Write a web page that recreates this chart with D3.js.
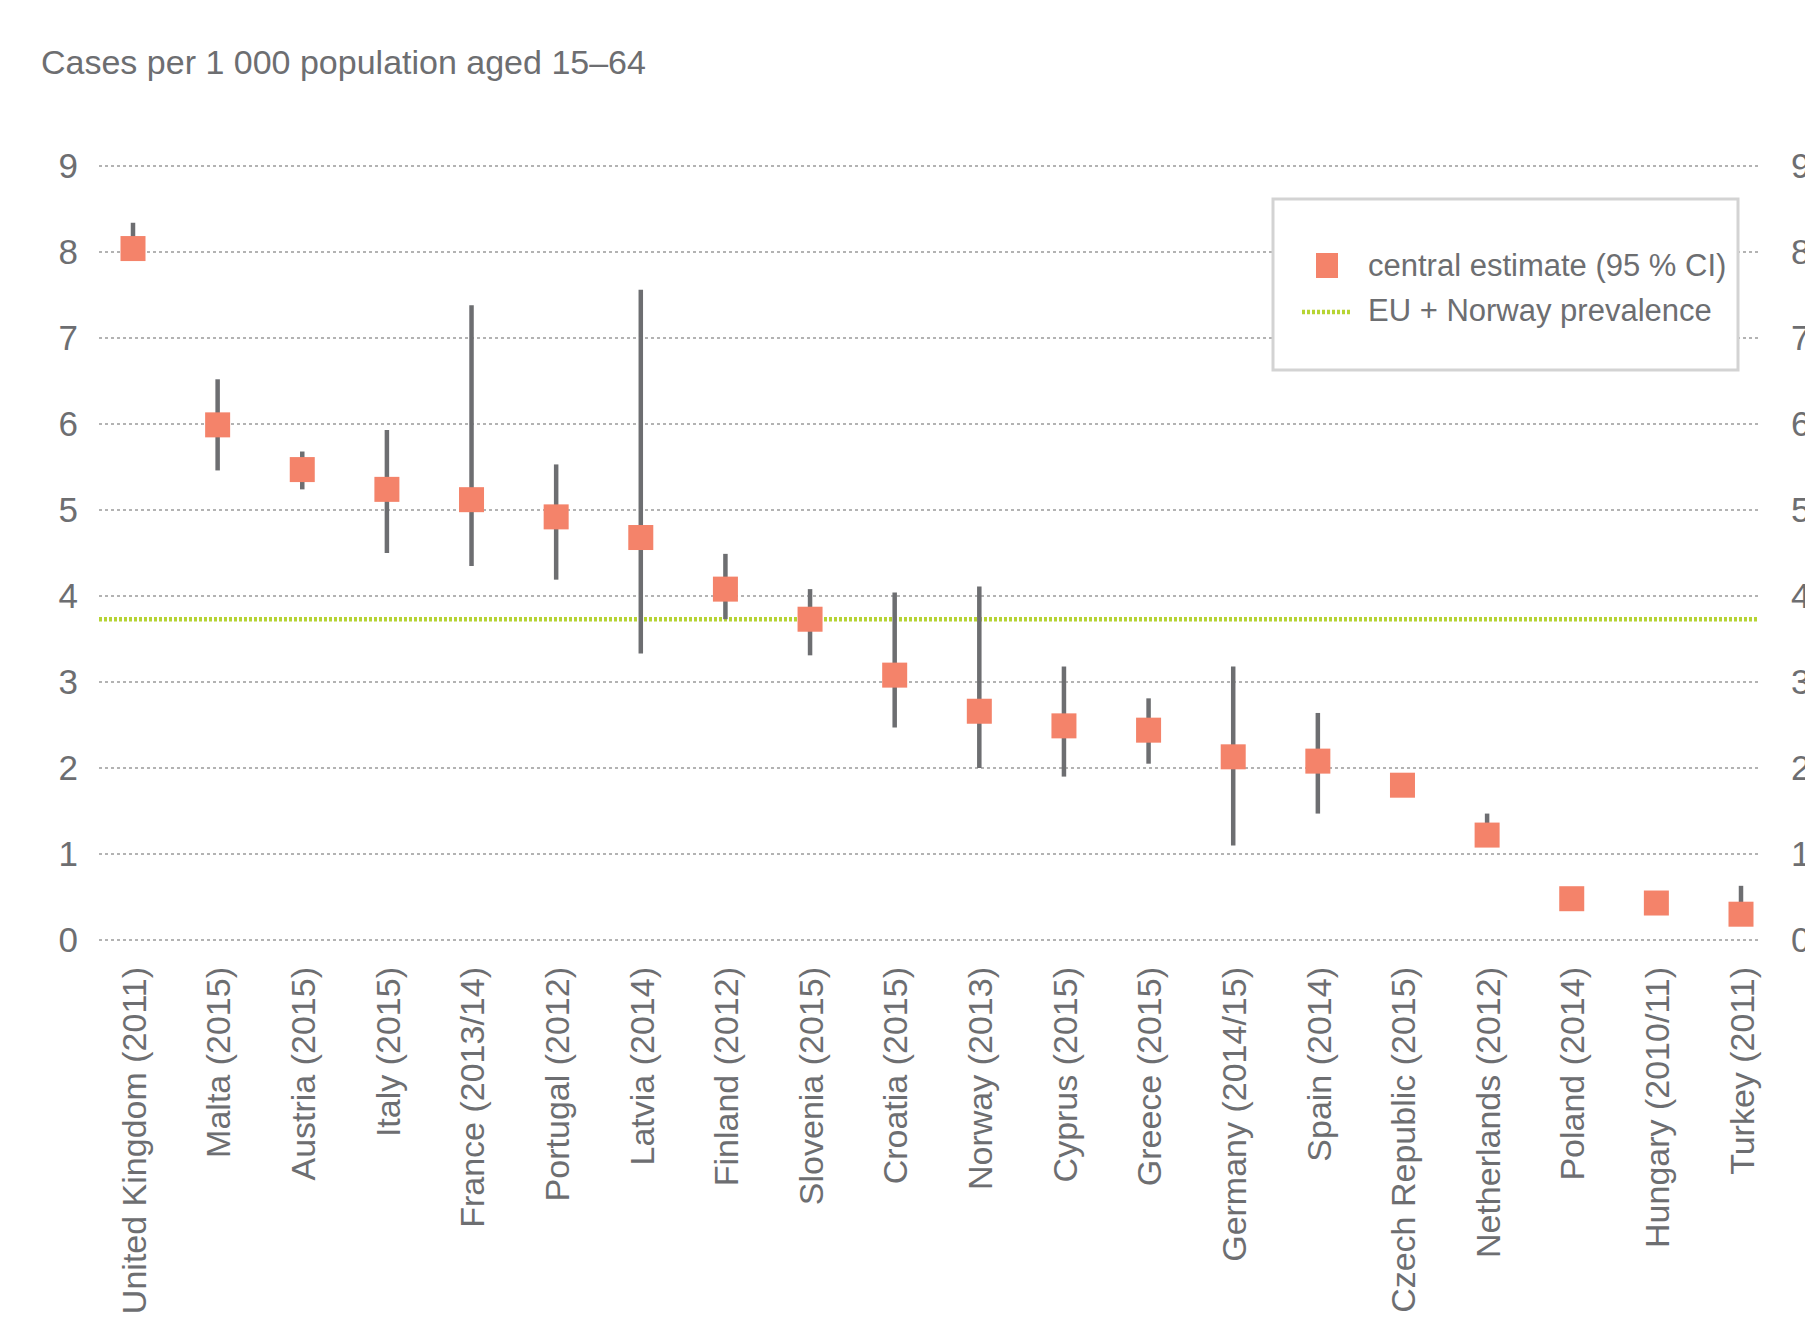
<!DOCTYPE html>
<html>
<head>
<meta charset="utf-8">
<script src="https://cdn.jsdelivr.net/npm/d3@7"></script>
<style>
  html, body { margin: 0; padding: 0; background: #fff; }
  svg { display: block; }
  text { font-family: "Liberation Sans", Arial, sans-serif; fill: #6d6e71; }
</style>
</head>
<body>
<svg id="chart" width="1805" height="1324"></svg>
<script>
// Country (survey year) labels, in chart order
const categories = [
  "United Kingdom (2011)", "Malta (2015)", "Austria (2015)", "Italy (2015)",
  "France (2013/14)", "Portugal (2012)", "Latvia (2014)", "Finland (2012)",
  "Slovenia (2015)", "Croatia (2015)", "Norway (2013)", "Cyprus (2015)",
  "Greece (2015)", "Germany (2014/15)", "Spain (2014)", "Czech Republic (2015)",
  "Netherlands (2012)", "Poland (2014)", "Hungary (2010/11)", "Turkey (2011)"
];
// Central estimates, cases per 1 000 population aged 15-64
const estimate = [8.04, 5.99, 5.47, 5.24, 5.12, 4.92, 4.68, 4.08, 3.73, 3.08,
                  2.66, 2.49, 2.44, 2.13, 2.08, 1.80, 1.22, 0.48, 0.43, 0.30];
// 95 % confidence interval bounds (null where no interval is reported)
const ciLow  = [7.95, 5.46, 5.24, 4.50, 4.35, 4.19, 3.33, 3.73, 3.31, 2.47,
                2.00, 1.90, 2.05, 1.10, 1.47, null, 1.15, null, null, 0.25];
const ciHigh = [8.34, 6.52, 5.68, 5.93, 7.38, 5.53, 7.56, 4.49, 4.08, 4.04,
                4.11, 3.18, 2.81, 3.18, 2.64, null, 1.47, null, null, 0.63];
// EU + Norway prevalence reference value
const euPrevalence = 3.73;
const yTicks = [0, 1, 2, 3, 4, 5, 6, 7, 8, 9];

const title = "Cases per 1 000 population aged 15\u201364";
const legendLabels = ["central estimate (95 % CI)", "EU + Norway prevalence"];

const colors = { estimate: "#f4836a", ci: "#6d6e71", eu: "#b6d433", grid: "#9b9b9b" };

const svg = d3.select("#chart");

const y = d3.scaleLinear().domain([0, 9]).range([940, 166]);
const x = d3.scalePoint().domain(categories).range([133, 1741]);
const gridX0 = 99, gridX1 = 1758;

// Title
svg.append("text")
  .attr("x", 41).attr("y", 74)
  .attr("font-size", 34)
  .text(title);

// Horizontal dotted gridlines
svg.append("g").selectAll("line").data(yTicks).join("line")
  .attr("x1", gridX0).attr("x2", gridX1)
  .attr("y1", d => y(d)).attr("y2", d => y(d))
  .attr("stroke", colors.grid).attr("stroke-width", 1.3)
  .attr("stroke-dasharray", "3,3");

// Left and right value axes (labels only)
const leftAxis = d3.axisLeft(y).tickValues(yTicks).tickSize(0).tickPadding(0);
const gl = svg.append("g").attr("transform", "translate(78,0)").call(leftAxis);
gl.select(".domain").remove();
gl.selectAll("text").attr("font-size", 35).attr("fill", "#6d6e71")
  .style("font-family", "'Liberation Sans', Arial, sans-serif");

const rightAxis = d3.axisRight(y).tickValues(yTicks).tickSize(0).tickPadding(0);
const gr = svg.append("g").attr("transform", "translate(1791,0)").call(rightAxis);
gr.select(".domain").remove();
gr.selectAll("text").attr("font-size", 35).attr("fill", "#6d6e71")
  .style("font-family", "'Liberation Sans', Arial, sans-serif");

// EU + Norway reference line
svg.append("line")
  .attr("x1", gridX0).attr("x2", gridX1)
  .attr("y1", y(euPrevalence)).attr("y2", y(euPrevalence))
  .attr("stroke", colors.eu).attr("stroke-width", 4.5)
  .attr("stroke-dasharray", "3,2");

const rows = categories.map((c, i) => ({ c, est: estimate[i], lo: ciLow[i], hi: ciHigh[i] }));

// Confidence interval whiskers
svg.append("g").selectAll("line").data(rows.filter(d => d.lo !== null)).join("line")
  .attr("x1", d => x(d.c)).attr("x2", d => x(d.c))
  .attr("y1", d => y(d.hi)).attr("y2", d => y(d.lo))
  .attr("stroke", colors.ci).attr("stroke-width", 4.5);

// Central estimate squares
const sq = 25;
svg.append("g").selectAll("rect").data(rows).join("rect")
  .attr("x", d => x(d.c) - sq / 2).attr("y", d => y(d.est) - sq / 2)
  .attr("width", sq).attr("height", sq)
  .attr("fill", colors.estimate);

// Rotated category labels
const xAxis = d3.axisBottom(x).tickSize(0).tickPadding(0);
const gx = svg.append("g").attr("transform", "translate(0,967)").call(xAxis);
gx.select(".domain").remove();
gx.selectAll("text")
  .attr("transform", "rotate(-90)")
  .attr("x", 0).attr("y", 0).attr("dy", "0.36em")
  .attr("text-anchor", "end")
  .attr("font-size", 34).attr("fill", "#6d6e71")
  .style("font-family", "'Liberation Sans', Arial, sans-serif");

// Legend
const lg = svg.append("g");
lg.append("rect")
  .attr("x", 1273).attr("y", 199).attr("width", 465).attr("height", 171)
  .attr("fill", "#fff").attr("stroke", "#d3d3d3").attr("stroke-width", 3);
lg.append("rect")
  .attr("x", 1316).attr("y", 253).attr("width", 22).attr("height", 25)
  .attr("fill", colors.estimate);
lg.append("line")
  .attr("x1", 1302).attr("x2", 1351).attr("y1", 312).attr("y2", 312)
  .attr("stroke", colors.eu).attr("stroke-width", 4.5)
  .attr("stroke-dasharray", "3,2");
lg.selectAll("text.leg").data(legendLabels).join("text")
  .attr("class", "leg")
  .attr("x", 1368).attr("y", (d, i) => 265 + i * 45).attr("dy", "0.35em")
  .attr("font-size", 31)
  .text(d => d);
</script>
</body>
</html>
